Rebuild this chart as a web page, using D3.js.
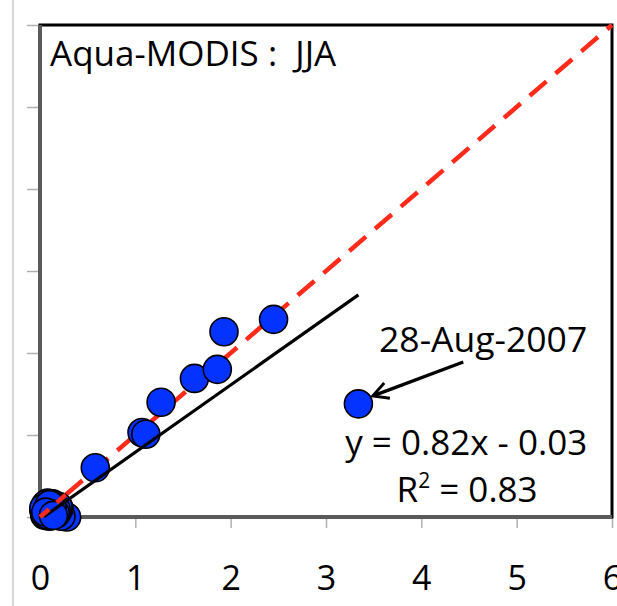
<!DOCTYPE html>
<html>
<head>
<meta charset="utf-8">
<script src="https://cdn.jsdelivr.net/npm/d3@7"></script>
<style>
  body { margin: 0; background: #fff; }
  svg { display: block; font-family: "Open Sans", sans-serif; }
</style>
</head>
<body>
<div id="chart"></div>
<script>
const xTicks = [0, 1, 2, 3, 4, 5, 6];
const yTicks = [0, 1, 2, 3, 4, 5, 6];

// scatter values; many near-zero cases pile up at the origin
const xVals = [0.28, 0.22,
               0.05, 0.08, 0.12, 0.10, 0.15, 0.20, 0.13, 0.07, 0.09, 0.11, 0.06, 0.14, 0.17,
               0.04, 0.16, 0.10, 0.13, 0.08, 0.18, 0.11, 0.06, 0.15, 0.09, 0.12, 0.19,
               0.05, 0.07, 0.09, 0.11, 0.13, 0.15, 0.17, 0.06, 0.08, 0.10, 0.12, 0.14,
               0.16, 0.04, 0.07, 0.09, 0.11, 0.13, 0.08, 0.10, 0.12, 0.06, 0.14,
               0.58, 1.07, 1.11, 1.27, 1.62, 1.86, 1.93, 2.45, 3.34];
const yVals = [0.00, 0.01,
               0.02, 0.05, 0.08, 0.12, 0.06, 0.10, 0.16, 0.09, 0.14, 0.03, 0.07, 0.11, 0.04,
               0.08, 0.13, 0.01, 0.02, 0.17, 0.07, 0.15, 0.11, 0.03, 0.06, 0.10, 0.13,
               0.04, 0.12, 0.02, 0.09, 0.05, 0.14, 0.09, 0.15, 0.10, 0.06, 0.13, 0.08,
               0.05, 0.11, 0.03, 0.12, 0.16, 0.10, 0.07, 0.15, 0.04, 0.06, 0.02,
               0.60, 1.03, 1.01, 1.40, 1.69, 1.80, 2.26, 2.41, 1.38];

const fitSlope = 0.82;
const fitIntercept = -0.03;
const titleText = "Aqua-MODIS :  JJA";
const outlierLabel = "28-Aug-2007";
const eqText = "y = 0.82x - 0.03";
const r2Value = "0.83";

const W = 617, H = 606;
const margin = {top: 25, right: 5, bottom: 89, left: 40};

const svg = d3.select("#chart").append("svg")
  .attr("width", W)
  .attr("height", H);

const x = d3.scaleLinear().domain([0, 6]).range([margin.left, W - margin.right]);
const y = d3.scaleLinear().domain([0, 6]).range([H - margin.bottom, margin.top]);

svg.append("defs").append("marker")
  .attr("id", "arrow")
  .attr("viewBox", "0 0 10 10")
  .attr("refX", 8).attr("refY", 5)
  .attr("markerWidth", 6).attr("markerHeight", 6)
  .attr("orient", "auto")
  .append("path")
    .attr("d", "M1,1 L8.5,5 L1,9")
    .attr("fill", "none")
    .attr("stroke", "#000")
    .attr("stroke-width", 1.4)
    .attr("stroke-linejoin", "miter");

// faint outer border on the left
svg.append("line")
  .attr("x1", 13).attr("x2", 13)
  .attr("y1", 0).attr("y2", H)
  .attr("stroke", "#c8c8c8")
  .attr("stroke-width", 1.5);

// ticks
const yAxis = svg.append("g")
  .attr("transform", `translate(${margin.left},0)`)
  .call(d3.axisLeft(y).tickValues(yTicks).tickSize(13).tickFormat(""));
yAxis.select(".domain").remove();
yAxis.selectAll(".tick line").attr("stroke", "#b0b0b0").attr("stroke-width", 1.5);

const xAxis = svg.append("g")
  .attr("transform", `translate(0,${y(0)})`)
  .call(d3.axisBottom(x).tickValues(xTicks).tickSize(11).tickPadding(40)
    .tickFormat(d3.format("d")));
xAxis.select(".domain").remove();
xAxis.selectAll(".tick line").attr("stroke", "#b0b0b0").attr("stroke-width", 1.5);
xAxis.selectAll(".tick text")
  .attr("font-family", "Open Sans, sans-serif")
  .attr("font-size", 34)
  .attr("dy", "0.64em")
  .attr("fill", "#000");

// plot frame
svg.append("rect")
  .attr("x", x(0)).attr("y", y(6))
  .attr("width", x(6) - x(0))
  .attr("height", y(0) - y(6))
  .attr("fill", "none")
  .attr("stroke", "#000")
  .attr("stroke-width", 3);

svg.append("path")
  .attr("d", `M${x(0)},${y(6)}V${y(0)}H${x(6)}`)
  .attr("fill", "none")
  .attr("stroke", "#5a5a5a")
  .attr("stroke-width", 4);

// 1:1 line
svg.append("line")
  .attr("x1", x(0)).attr("y1", y(0))
  .attr("x2", x(6)).attr("y2", y(6))
  .attr("stroke", "#ff2a1a")
  .attr("stroke-width", 4.5)
  .attr("stroke-dasharray", "22,12");

// points
const pts = xVals.map((v, i) => ({x: v, y: yVals[i]}));
svg.append("g").selectAll("circle")
  .data(pts)
  .enter().append("circle")
    .attr("cx", d => x(d.x))
    .attr("cy", d => y(d.y))
    .attr("r", 14)
    .attr("fill", "#0433ff")
    .attr("stroke", "#000")
    .attr("stroke-width", 1.6);

// linear fit line over the data range
const xMin = d3.min(xVals), xMax = d3.max(xVals);
svg.append("line")
  .attr("x1", x(xMin)).attr("y1", y(fitSlope * xMin + fitIntercept))
  .attr("x2", x(xMax)).attr("y2", y(fitSlope * xMax + fitIntercept))
  .attr("stroke", "#000")
  .attr("stroke-width", 3.2);

// redraw the 1:1 line over the cluster
svg.append("line")
  .attr("x1", x(0)).attr("y1", y(0))
  .attr("x2", x(0.35)).attr("y2", y(0.35))
  .attr("stroke", "#ff2a1a")
  .attr("stroke-width", 4.5)
  .attr("stroke-dasharray", "12,10");

// annotation arrow
svg.append("line")
  .attr("x1", x(4.44)).attr("y1", y(1.89))
  .attr("x2", x(3.50)).attr("y2", y(1.48))
  .attr("stroke", "#000")
  .attr("stroke-width", 3.4)
  .attr("marker-end", "url(#arrow)");

// texts
svg.append("text")
  .attr("x", 50).attr("y", 66)
  .attr("font-size", 35)
  .attr("xml:space", "preserve")
  .style("white-space", "pre")
  .text(titleText);

svg.append("text")
  .attr("x", x(5.74)).attr("y", y(2.01))
  .attr("text-anchor", "end")
  .attr("font-size", 35.5)
  .text(outlierLabel);

svg.append("text")
  .attr("x", x(5.74)).attr("y", y(0.756))
  .attr("text-anchor", "end")
  .attr("font-size", 35)
  .text(eqText);

const r2 = svg.append("text")
  .attr("x", x(4.48)).attr("y", y(0.18))
  .attr("text-anchor", "middle")
  .attr("font-size", 35);
r2.append("tspan").text("R");
r2.append("tspan").attr("font-size", 21).attr("dy", -14).text("2");
r2.append("tspan").attr("dy", 14).text(" = " + r2Value);
</script>
</body>
</html>
